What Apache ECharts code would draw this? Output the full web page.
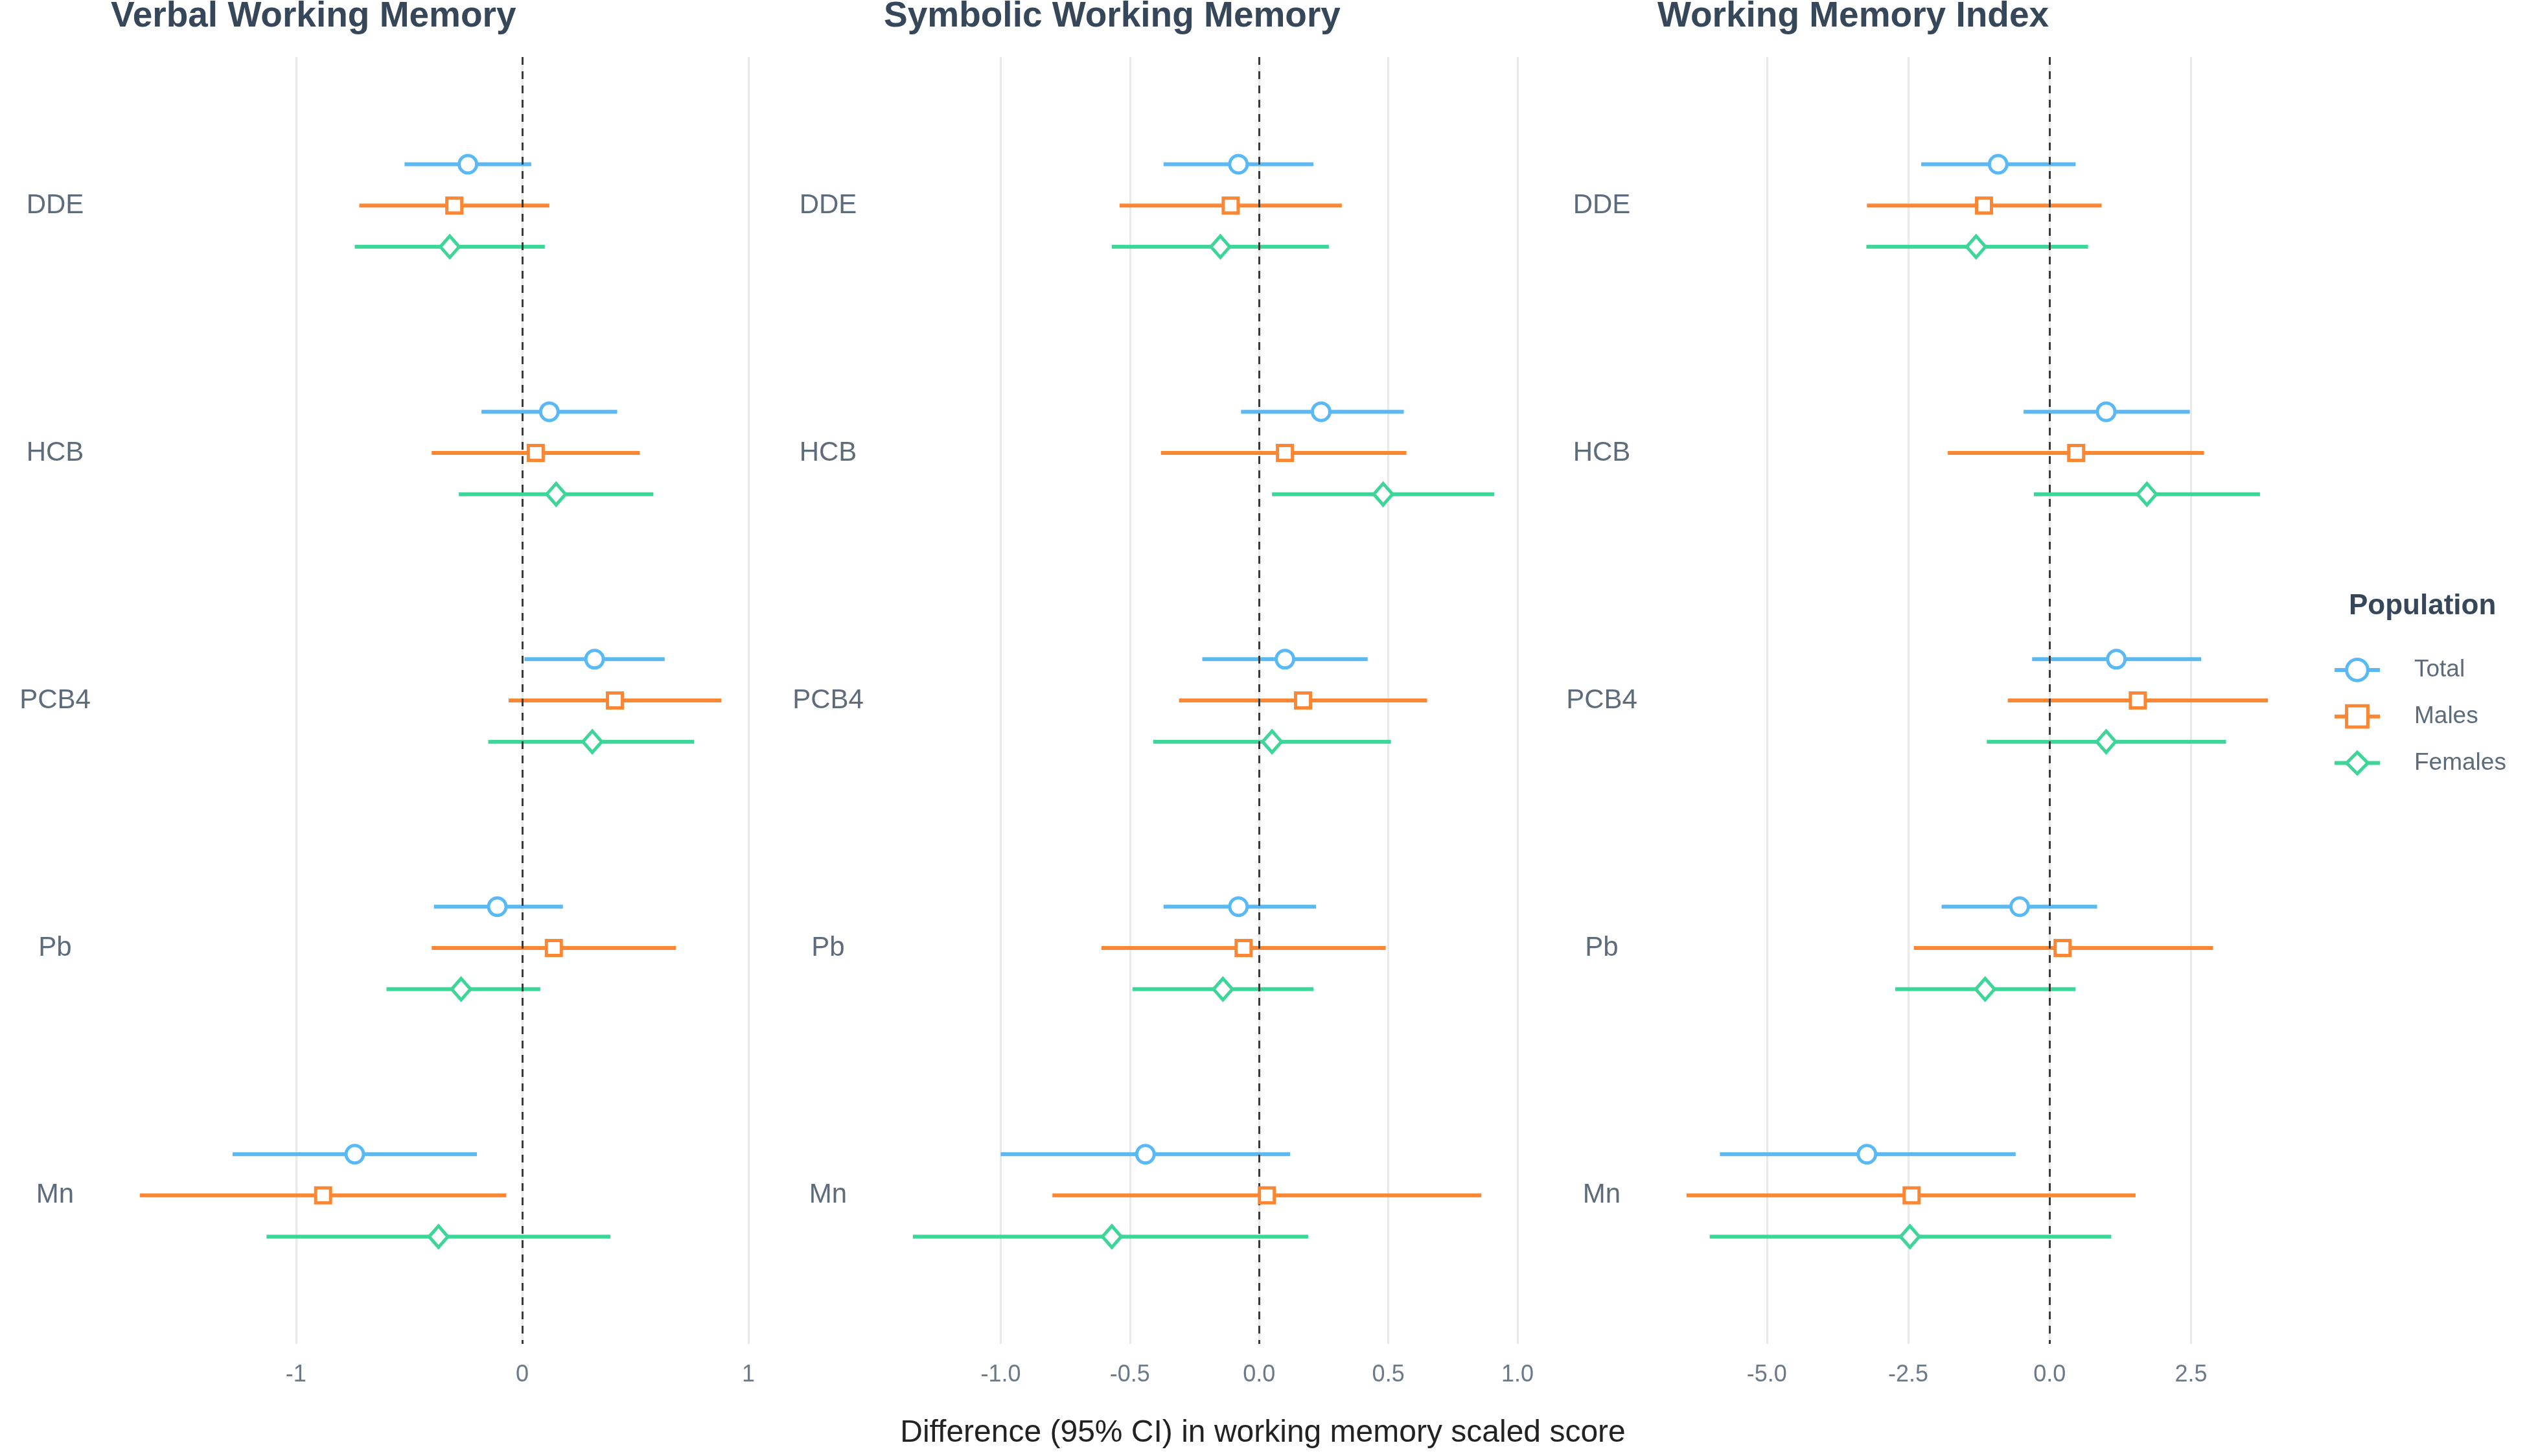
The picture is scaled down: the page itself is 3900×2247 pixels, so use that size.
<!DOCTYPE html>
<html>
<head>
<meta charset="utf-8">
<script src="https://cdn.jsdelivr.net/npm/echarts@6/dist/echarts.min.js"></script>
<style>
html,body{margin:0;padding:0;background:#fff;}
#chart{width:3900px;height:2247px;}
</style>
</head>
<body>
<div id="chart"></div>
<script>
// ---------------- DATA ----------------
const categories = ['DDE', 'HCB', 'PCB4', 'Pb', 'Mn'];
const groups = ['Total', 'Males', 'Females'];
const panelTitles = ['Verbal Working Memory', 'Symbolic Working Memory', 'Working Memory Index'];

// each row: [estimate, lower 95% CI, upper 95% CI], in category order
const verbalTotal   = [[-0.24, -0.52, 0.04], [0.12, -0.18, 0.42], [0.32, 0.01, 0.63], [-0.11, -0.39, 0.18], [-0.74, -1.28, -0.20]];
const verbalMales   = [[-0.30, -0.72, 0.12], [0.06, -0.40, 0.52], [0.41, -0.06, 0.88], [0.14, -0.40, 0.68], [-0.88, -1.69, -0.07]];
const verbalFemales = [[-0.32, -0.74, 0.10], [0.15, -0.28, 0.58], [0.31, -0.15, 0.76], [-0.27, -0.60, 0.08], [-0.37, -1.13, 0.39]];

const symbolicTotal   = [[-0.08, -0.37, 0.21], [0.24, -0.07, 0.56], [0.10, -0.22, 0.42], [-0.08, -0.37, 0.22], [-0.44, -1.00, 0.12]];
const symbolicMales   = [[-0.11, -0.54, 0.32], [0.10, -0.38, 0.57], [0.17, -0.31, 0.65], [-0.06, -0.61, 0.49], [0.03, -0.80, 0.86]];
const symbolicFemales = [[-0.15, -0.57, 0.27], [0.48, 0.05, 0.91], [0.05, -0.41, 0.51], [-0.14, -0.49, 0.21], [-0.57, -1.34, 0.19]];

const indexTotal   = [[-0.91, -2.27, 0.46], [1.00, -0.46, 2.48], [1.18, -0.31, 2.68], [-0.53, -1.91, 0.84], [-3.23, -5.83, -0.60]];
const indexMales   = [[-1.16, -3.23, 0.92], [0.47, -1.80, 2.73], [1.56, -0.74, 3.86], [0.23, -2.40, 2.89], [-2.44, -6.42, 1.52]];
const indexFemales = [[-1.30, -3.24, 0.68], [1.72, -0.28, 3.72], [1.00, -1.11, 3.12], [-1.14, -2.73, 0.46], [-2.47, -6.01, 1.09]];

const verbalTicks = [-1, 0, 1];
const verbalTickLabels = ['-1', '0', '1'];
const symbolicTicks = [-1, -0.5, 0, 0.5, 1];
const symbolicTickLabels = ['-1.0', '-0.5', '0.0', '0.5', '1.0'];
const indexTicks = [-5, -2.5, 0, 2.5];
const indexTickLabels = ['-5.0', '-2.5', '0.0', '2.5'];

const xAxisTitle = 'Difference (95% CI) in working memory scaled score';
const legendTitle = 'Population';

// ---------------- STYLE ----------------
const FONT = '"Liberation Sans", Arial, Helvetica, sans-serif';
const colors = { Total: '#5ab9f5', Males: '#fb8633', Females: '#3dd598' };
const symbols = { Total: 'circle', Males: 'rect', Females: 'diamond' };
const symbolSizes = { Total: [27, 27], Males: [23, 23], Females: [29, 33] };
const dodge = { Total: -1 / 6, Males: 0, Females: 1 / 6 };

const panels = [
  { title: panelTitles[0], data: { Total: verbalTotal, Males: verbalMales, Females: verbalFemales }, ticks: verbalTicks, labels: verbalTickLabels },
  { title: panelTitles[1], data: { Total: symbolicTotal, Males: symbolicMales, Females: symbolicFemales }, ticks: symbolicTicks, labels: symbolicTickLabels },
  { title: panelTitles[2], data: { Total: indexTotal, Males: indexMales, Females: indexFemales }, ticks: indexTicks, labels: indexTickLabels }
];

const panelLefts = [171, 1364, 2558];
const panelWidth = 987;
const panelTop = 88;
const panelHeight = 1986;

const grids = [], xAxes = [], yAxes = [], series = [], titles = [];

// legend-driving series (first, so legend icons come from them)
groups.forEach(g => {
  series.push({
    name: g, type: 'line', xAxisIndex: 2, yAxisIndex: 2, data: [],
    symbol: symbols[g], showSymbol: true,
    lineStyle: { color: colors[g], width: 6 },
    itemStyle: { color: '#fff', borderColor: colors[g], borderWidth: 5 }
  });
});

panels.forEach((p, pi) => {
  // axis range with 5% expansion of data range
  let lo = Infinity, hi = -Infinity;
  groups.forEach(g => p.data[g].forEach(r => { lo = Math.min(lo, r[1]); hi = Math.max(hi, r[2]); }));
  const pad = (hi - lo) * 0.05;

  grids.push({ left: panelLefts[pi], top: panelTop, width: panelWidth, height: panelHeight, containLabel: false });
  const tickLabelMap = {};
  p.ticks.forEach((t, i) => { tickLabelMap[String(t)] = p.labels[i]; });
  xAxes.push({
    type: 'value', gridIndex: pi, min: lo - pad, max: hi + pad,
    axisLine: { show: false }, axisTick: { show: false }, splitLine: { show: false },
    axisLabel: {
      customValues: p.ticks, margin: 30, fontSize: 36, color: '#6b7a8a', fontFamily: FONT,
      formatter: v => (tickLabelMap[String(v)] !== undefined ? tickLabelMap[String(v)] : '')
    }
  });
  yAxes.push({
    type: 'value', gridIndex: pi, min: 0.4, max: 5.6, inverse: true,
    axisLine: { show: false }, axisTick: { show: false }, splitLine: { show: false },
    axisLabel: {
      customValues: [1, 2, 3, 4, 5], margin: 86, align: 'center', fontSize: 42, color: '#5d6b7a', fontFamily: FONT,
      formatter: v => categories[Math.round(v) - 1] || ''
    }
  });
  titles.push({
    text: p.title, left: panelLefts[pi], top: -2, padding: 0,
    textStyle: { fontSize: 55, fontWeight: 'bold', color: '#37475a', fontFamily: FONT }
  });

  // background gridlines
  series.push({
    type: 'line', xAxisIndex: pi, yAxisIndex: pi, data: [], silent: true,
    markLine: {
      silent: true, symbol: ['none', 'none'], z: 1, animation: false,
      label: { show: false },
      lineStyle: { color: '#e9e9e9', width: 3, type: 'solid' },
      data: p.ticks.map(t => ({ xAxis: t }))
    }
  });

  // error bars
  groups.forEach(g => {
    series.push({
      name: g, type: 'custom', xAxisIndex: pi, yAxisIndex: pi, z: 2, silent: true,
      encode: { x: [0, 1], y: 2 },
      data: p.data[g].map((r, ci) => [r[1], r[2], ci + 1 + dodge[g]]),
      renderItem: (params, api) => {
        const a = api.coord([api.value(0), api.value(2)]);
        const b = api.coord([api.value(1), api.value(2)]);
        return { type: 'line', shape: { x1: a[0], y1: a[1], x2: b[0], y2: b[1] },
                 style: { stroke: colors[g], lineWidth: 6, lineCap: 'butt' } };
      }
    });
  });

  // reference zero line (dashed)
  series.push({
    type: 'line', xAxisIndex: pi, yAxisIndex: pi, data: [], silent: true,
    markLine: {
      silent: true, symbol: ['none', 'none'], z: 3, animation: false,
      label: { show: false },
      lineStyle: { color: '#3a3a3a', width: 3, type: [12, 10] },
      data: [{ xAxis: 0 }]
    }
  });

  // point estimates
  groups.forEach(g => {
    series.push({
      name: g, type: 'scatter', xAxisIndex: pi, yAxisIndex: pi, z: 4,
      symbol: symbols[g], symbolSize: symbolSizes[g],
      itemStyle: { color: '#fff', borderColor: colors[g], borderWidth: 5, opacity: 1 },
      data: p.data[g].map((r, ci) => [r[0], ci + 1 + dodge[g]])
    });
  });
});

titles.push({
  text: xAxisTitle, left: 1949, top: 2188, textAlign: 'center', padding: 0,
  textStyle: { fontSize: 48, fontWeight: 'normal', color: '#222222', fontFamily: FONT }
});
titles.push({
  text: legendTitle, left: 3625, top: 914, padding: 0,
  textStyle: { fontSize: 44, fontWeight: 'bold', color: '#37475a', fontFamily: FONT }
});

const option = {
  backgroundColor: '#ffffff',
  animation: false,
  title: titles,
  legend: {
    data: groups, orient: 'vertical', left: 3600, top: 1015, padding: 0,
    itemWidth: 70, itemHeight: 41, itemGap: 34,
    lineStyle: { width: 6 },
    itemStyle: { borderWidth: 5, color: '#fff' },
    textStyle: { fontSize: 37, color: '#5d6b7a', fontFamily: FONT, padding: [0, 0, 0, 48] }
  },
  grid: grids,
  xAxis: xAxes,
  yAxis: yAxes,
  series: series
};

const chart = echarts.init(document.getElementById('chart'), null, { renderer: 'canvas' });
chart.setOption(option);
</script>
</body>
</html>
